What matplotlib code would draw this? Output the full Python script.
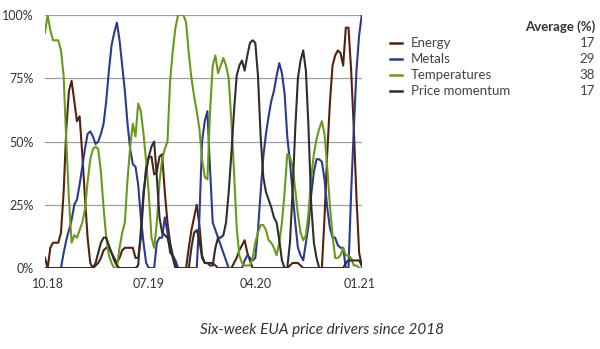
import matplotlib
matplotlib.use("Agg")
import matplotlib.pyplot as plt
from matplotlib.lines import Line2D
import numpy as np

plt.rcParams['font.family'] = ['Lato', 'DejaVu Sans']

# weekly index (Oct 2018 - Jan 2021)
energy = [4, 0, 8, 10, 10, 10, 14, 30, 55, 70, 74, 66, 58, 60, 45, 28, 12, 2, 0, 1,
          2, 4, 7, 8, 8, 6, 4, 2, 4, 7, 8, 8, 8, 8, 4, 4, 12, 28, 40, 44,
          44, 37, 38, 44, 45, 30, 18, 10, 5, 1, 0, 0, 0, 0, 8, 15, 20, 25, 17, 5,
          2, 2, 2, 2, 1, 0, 0, 0, 0, 0, 0, 2, 4, 7, 9, 11, 6, 3, 0, 0,
          0, 0, 0, 0, 0, 0, 0, 0, 0, 0, 0, 0, 1, 2, 2, 2, 1, 0, 0, 0,
          0, 0, 0, 0, 0, 20, 45, 65, 80, 84, 86, 85, 80, 95, 95, 78, 55, 28, 6, 1]
metals = [0, 0, 0, 0, 0, 0, 0, 6, 11, 15, 19, 25, 27, 33, 40, 47, 53, 54, 52, 49,
          50, 53, 57, 66, 78, 88, 93, 97, 90, 80, 70, 57, 47, 41, 40, 33, 20, 10, 2, 0,
          0, 0, 10, 12, 12, 20, 14, 6, 5, 3, 0, 0, 0, 0, 0, 0, 0, 0, 20, 50,
          58, 62, 39, 18, 15, 12, 9, 6, 3, 0, 0, 0, 0, 0, 0, 3, 5, 4, 3, 4,
          15, 30, 44, 53, 60, 66, 70, 76, 81, 77, 69, 52, 42, 30, 18, 8, 5, 3, 10, 17,
          29, 38, 43, 43, 42, 35, 24, 16, 12, 12, 9, 8, 8, 0, 0, 30, 55, 78, 92, 100]
temperatures = [93, 100, 94, 90, 90, 90, 86, 76, 50, 27, 10, 13, 12, 15, 18, 23, 34, 43, 47, 48,
                47, 38, 24, 12, 5, 2, 0, 0, 8, 14, 18, 35, 48, 57, 52, 65, 62, 53, 42, 29,
                12, 8, 18, 34, 43, 47, 50, 74, 86, 95, 100, 100, 100, 97, 85, 75, 68, 62, 55, 43,
                36, 35, 62, 80, 84, 77, 80, 83, 80, 75, 58, 38, 16, 5, 2, 1, 1, 1, 4, 10,
                14, 17, 17, 15, 11, 10, 8, 5, 10, 18, 30, 45, 44, 40, 31, 21, 14, 11, 13, 22,
                36, 45, 51, 55, 58, 53, 40, 25, 13, 4, 4, 5, 8, 5, 5, 4, 1, 1, 0, 0]
momentum = [0, 0, 0, 0, 0, 0, 0, 0, 0, 0, 0, 0, 0, 0, 0, 0, 0, 0, 0, 2,
            6, 10, 12, 12, 9, 6, 3, 1, 0, 0, 0, 0, 0, 0, 0, 1, 15, 30, 38, 44,
            48, 50, 36, 20, 14, 13, 12, 8, 4, 0, 0, 0, 0, 0, 0, 8, 14, 15, 11, 4,
            2, 2, 1, 1, 8, 12, 12, 13, 18, 30, 45, 62, 76, 80, 82, 78, 84, 89, 90, 89,
            76, 52, 36, 30, 27, 24, 20, 18, 11, 3, 0, 0, 10, 30, 55, 75, 82, 86, 78, 55,
            25, 10, 4, 0, 0, 0, 0, 0, 0, 0, 0, 0, 0, 2, 3, 3, 3, 3, 3, 1]

series_names = ["Energy", "Metals", "Temperatures", "Price momentum"]
averages = ["17", "29", "38", "17"]
colors = ["#55220e", "#2b3a8f", "#6a9a1c", "#2e2e2e"]

tick_pos = [1, 39, 79, 118]
tick_labels = ["10.18", "07.19", "04.20", "01.21"]
y_ticks = [0, 25, 50, 75, 100]
y_labels = ["0%", "25%", "50%", "75%", "100%"]

fig = plt.figure(figsize=(6, 3.49), dpi=100)
ax = fig.add_axes([0.075, 0.232, 0.528, 0.725])

weeks = np.arange(len(energy))
data = [energy, metals, temperatures, momentum]
for vals, c in zip(data, colors):
    ax.plot(weeks, vals, color=c, lw=1.5, solid_joinstyle='round')

ax.set_xlim(0, len(energy) - 1)
ax.set_ylim(0, 100)
ax.set_yticks(y_ticks)
ax.set_yticklabels(y_labels)
ax.set_xticks(tick_pos)
ax.set_xticklabels(tick_labels)
ax.tick_params(length=0, labelsize=9, colors="#333333")
ax.tick_params(axis='y', pad=8)
ax.tick_params(axis='x', pad=7)
ax.grid(axis='y', color="#a0a0a0", lw=0.9)
ax.set_axisbelow(True)
for s in ax.spines.values():
    s.set_visible(False)

# legend table
fig.text(595 / 600, 1 - 27 / 349, "Average (%)", ha='right', va='center',
         fontsize=9.5, fontweight='bold', color="#333333")
row_y = [43, 59, 75, 91]
for name, avg, c, yy in zip(series_names, averages, colors, row_y):
    fy = 1 - yy / 349
    fig.add_artist(Line2D([390 / 600, 402 / 600], [fy, fy], color=c, lw=1.8,
                          transform=fig.transFigure))
    fig.text(411 / 600, fy, name, ha='left', va='center', fontsize=9.5, color="#444444")
    fig.text(595 / 600, fy, avg, ha='right', va='center', fontsize=9.5, color="#444444")

fig.text(322 / 600, 1 - 330 / 349, "Six-week EUA price drivers since 2018",
         ha='center', va='center', fontsize=11, style='italic', color="#333333")

fig.savefig("out.png", dpi=100)
